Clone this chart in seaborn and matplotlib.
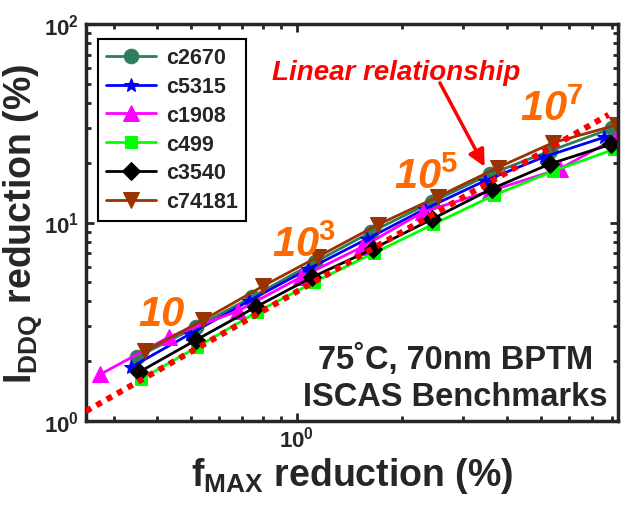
import numpy as np
import pandas as pd
import matplotlib
matplotlib.use("Agg")
import matplotlib.pyplot as plt
import seaborn as sns
from matplotlib.ticker import FixedLocator, FuncFormatter, NullFormatter, LogLocator

# ---------------- data ----------------
series_names = ["c2670", "c5315", "c1908", "c499", "c3540", "c74181"]

x_c2670 = [0.35, 0.515, 0.745, 1.13, 1.63, 2.44, 3.57, 5.29, 8.0]
y_c2670 = [2.10, 2.97, 4.21, 6.32, 8.94, 12.7, 17.5, 22.9, 29.9]

x_c5315 = [0.337, 0.495, 0.730, 1.08, 1.59, 2.33, 3.45, 5.10, 7.59]
y_c5315 = [1.87, 2.74, 4.02, 5.83, 8.26, 11.7, 16.2, 21.4, 26.9]

x_c1908 = [0.275, 0.432, 0.679, 1.03, 1.54, 2.30, 3.57, 5.65, 8.27]
y_c1908 = [1.72, 2.65, 3.58, 5.31, 7.53, 11.3, 14.4, 18.6, 26.9]

x_c499 = [0.36, 0.52, 0.77, 1.12, 1.66, 2.46, 3.66, 5.40, 8.10]
y_c499 = [1.63, 2.36, 3.54, 5.00, 7.00, 9.8, 13.7, 18.1, 23.4]

x_c3540 = [0.354, 0.516, 0.764, 1.11, 1.65, 2.44, 3.62, 5.29, 7.94]
y_c3540 = [1.76, 2.56, 3.75, 5.31, 7.35, 10.4, 14.8, 19.7, 24.8]

x_c74181 = [0.369, 0.540, 0.800, 1.155, 1.712, 2.54, 3.76, 5.40, 8.27]
y_c74181 = [2.25, 3.22, 4.77, 6.74, 9.77, 13.5, 18.9, 25.2, 31.1]

linear_x = [0.25, 7.8]
linear_y = [1.12, 34.9]

ratio_labels = ["10", "10$^{3}$", "10$^{5}$", "10$^{7}$"]
ratio_x = [0.41, 1.05, 2.35, 5.35]
ratio_y = [2.75, 6.1, 13.4, 29.5]

series_colors = ["#2E7D5B", "#0000FF", "#FF00FF", "#00FF00", "#000000", "#993300"]
series_markers = ["o", "*", "^", "s", "D", "v"]
marker_sizes = [10.5, 10, 11, 9, 9.5, 11]

xs = [x_c2670, x_c5315, x_c1908, x_c499, x_c3540, x_c74181]
ys = [y_c2670, y_c5315, y_c1908, y_c499, y_c3540, y_c74181]

rows = []
for name, xv, yv in zip(series_names, xs, ys):
    for i, (a, b) in enumerate(zip(xv, yv)):
        rows.append({"circuit": name, "fmax": a, "iddq": b, "idx": i})
df = pd.DataFrame(rows)

# ---------------- style ----------------
sns.set_style("ticks")
plt.rcParams["font.family"] = ["Liberation Sans", "DejaVu Sans"]
plt.rcParams["font.weight"] = "bold"
plt.rcParams["mathtext.fontset"] = "custom"
plt.rcParams["mathtext.rm"] = "Liberation Sans:bold"
plt.rcParams["mathtext.it"] = "Liberation Sans:bold:italic"
plt.rcParams["mathtext.bf"] = "Liberation Sans:bold"

fig = plt.figure(figsize=(6.21, 5.10), dpi=100)
ax = fig.add_axes([86 / 621, 88 / 510, (618 - 86) / 621, (422 - 25) / 510])

for name, c, m, ms in zip(series_names, series_colors, series_markers, marker_sizes):
    sub = df[df["circuit"] == name]
    sns.lineplot(data=sub, x="fmax", y="iddq", ax=ax, color=c, marker=m,
                 markersize=ms, markeredgecolor=c, markerfacecolor=c,
                 linewidth=2.0, label=name, sort=False, estimator=None)

ax.plot(linear_x, linear_y, color="#FF0000", linewidth=4.3,
        linestyle=(0, (1, 1)), dash_capstyle="butt", zorder=5)

ax.set_xscale("log")
ax.set_yscale("log")
ax.set_xlim(0.25, 8.3)
ax.set_ylim(1, 100)

ax.xaxis.set_major_locator(FixedLocator([1]))
ax.xaxis.set_minor_locator(LogLocator(base=10, subs=np.arange(2, 10), numticks=20))
ax.yaxis.set_major_locator(FixedLocator([1, 10, 100]))
ax.yaxis.set_minor_locator(LogLocator(base=10, subs=np.arange(2, 10), numticks=20))

def fmt(v, pos):
    e = int(round(np.log10(v)))
    return r"$\mathbf{10^{%d}}$" % e
ax.xaxis.set_major_formatter(FuncFormatter(fmt))
ax.yaxis.set_major_formatter(FuncFormatter(fmt))
ax.xaxis.set_minor_formatter(NullFormatter())
ax.yaxis.set_minor_formatter(NullFormatter())

ax.tick_params(which="both", direction="in", top=True, right=True, width=2)
ax.tick_params(which="major", length=6, labelsize=16, pad=5)
ax.tick_params(axis="x", which="major", pad=3)
ax.tick_params(which="minor", length=3.5)
for sp in ax.spines.values():
    sp.set_linewidth(2.5)
    sp.set_visible(True)

ax.set_xlabel(r"f$_{\mathbf{MAX}}$ reduction (%)", fontsize=27, fontweight="bold", labelpad=3)
ax.set_ylabel(r"I$_{\mathbf{DDQ}}$ reduction (%)", fontsize=27, fontweight="bold", labelpad=0)

leg = ax.legend(loc="upper left", bbox_to_anchor=(0.002, 0.99), fontsize=15.5,
                frameon=True, fancybox=False, edgecolor="black", framealpha=1,
                handlelength=2.3, handletextpad=0.45, borderpad=0.4, labelspacing=0.36)
leg.get_frame().set_linewidth(1.5)
for t in leg.get_texts():
    t.set_fontweight("bold")

for lab, xx, yy in zip(ratio_labels, ratio_x, ratio_y):
    ax.text(xx, yy, lab, color="#FF6A00", fontsize=30, fontweight="bold",
            fontstyle="italic", ha="center", va="bottom", zorder=6)

ax.text(1.93, 57.0, "Linear relationship", color="#FF0000", fontsize=20,
        fontweight="bold", fontstyle="italic", ha="center", va="center", zorder=6)
ax.annotate("", xy=(3.45, 19.1), xytext=(2.57, 50.5),
            arrowprops=dict(arrowstyle="-|>", color="#FF0000", lw=2.5,
                            mutation_scale=25, shrinkA=0, shrinkB=0), zorder=6)

ax.text(0.694, 0.11, "75\u02daC, 70nm BPTM\nISCAS Benchmarks", transform=ax.transAxes,
        fontsize=23.5, fontweight="bold", ha="center", va="center",
        linespacing=1.25, zorder=7)

fig.savefig("out.png", dpi=100)
